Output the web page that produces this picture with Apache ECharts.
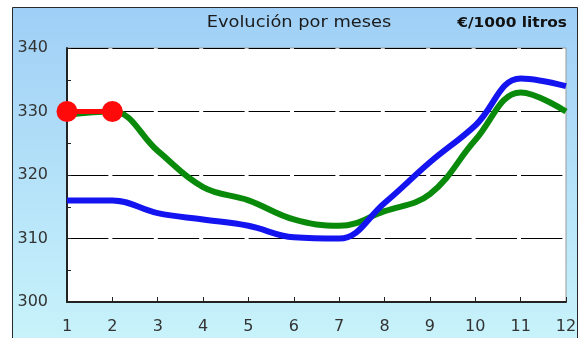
<!DOCTYPE html>
<html>
<head>
<meta charset="utf-8">
<script src="https://cdn.jsdelivr.net/npm/echarts@6/dist/echarts.min.js"></script>
<style>html,body{margin:0;padding:0;background:#fff}#c{width:584px;height:338px}</style>
</head>
<body>
<div id="c"></div>
<script>
var months = ['1','2','3','4','5','6','7','8','9','10','11','12'];
var blueValues = [316, 316, 314, 313, 312, 310.2, 310, 315.6, 322, 327.8, 335.2, 334];
var greenValues = [329.5, 330, 323.8, 318.1, 316, 313, 312, 314.3, 317, 325.5, 333, 330];
var redValues = [330, 330, null, null, null, null, null, null, null, null, null, null];
var yTicks = [300, 310, 320, 330, 340];

var chart = echarts.init(document.getElementById('c'), null, {renderer: 'canvas'});
chart.setOption({
  animation: false,
  graphic: [
    {type: 'rect', z: -10, shape: {x: 12.5, y: 7.5, width: 565, height: 340},
     style: {fill: new echarts.graphic.LinearGradient(0, 0, 0, 1, [
        {offset: 0, color: '#9fcff6'}, {offset: 1, color: '#c9f4fb'}]),
        stroke: '#2a2a2a', lineWidth: 1}},
    {type: 'text', x: 299, y: 23, scaleX: 1.15, style: {text: 'Evolución por meses', fontFamily: 'DejaVu Sans', fontSize: 15.5, fill: '#1a1a1a', textAlign: 'center', textVerticalAlign: 'middle'}},
    {type: 'text', x: 567, y: 23, scaleX: 1.1, style: {text: '€/1000 litros', fontFamily: 'DejaVu Sans', fontSize: 14, fontWeight: 'bold', fill: '#111', textAlign: 'right', textVerticalAlign: 'middle'}}
  ],
  grid: {left: 67, right: 18, top: 48, bottom: 36, show: true, backgroundColor: '#fff', borderColor: '#9a9a9a', borderWidth: 1},
  xAxis: {
    type: 'category', data: months, boundaryGap: false,
    axisLine: {lineStyle: {color: '#222', width: 2}},
    axisTick: {show: true, inside: true, length: 5, lineStyle: {color: '#222', width: 1}},
    axisLabel: {margin: 17, fontFamily: 'DejaVu Sans', fontSize: 16, color: '#333'},
    splitLine: {show: false}
  },
  yAxis: {
    type: 'value', min: yTicks[0], max: yTicks[yTicks.length - 1], interval: 10,
    axisLine: {show: true, lineStyle: {color: '#222', width: 2}},
    axisTick: {show: true, inside: true, length: 4, lineStyle: {color: '#222'}},
    minorTick: {show: true, splitNumber: 2, length: 4, lineStyle: {color: '#222'}},
    axisLabel: {margin: 19, fontFamily: 'DejaVu Sans', fontSize: 16, color: '#333'},
    splitLine: {show: true, lineStyle: {color: '#000', width: 1, type: [41.4, 4]}}
  },
  series: [
    {type: 'line', data: greenValues, smooth: 0.4, symbol: 'none', lineStyle: {color: '#0a8a0a', width: 6}, z: 2},
    {type: 'line', data: blueValues, smooth: 0.4, symbol: 'none', lineStyle: {color: '#1414f0', width: 6}, z: 3},
    {type: 'line', data: redValues, symbol: 'circle', symbolSize: 21, itemStyle: {color: '#ff0a0a'}, lineStyle: {color: '#ff0a0a', width: 5}, z: 4}
  ]
});
</script>
</body>
</html>
